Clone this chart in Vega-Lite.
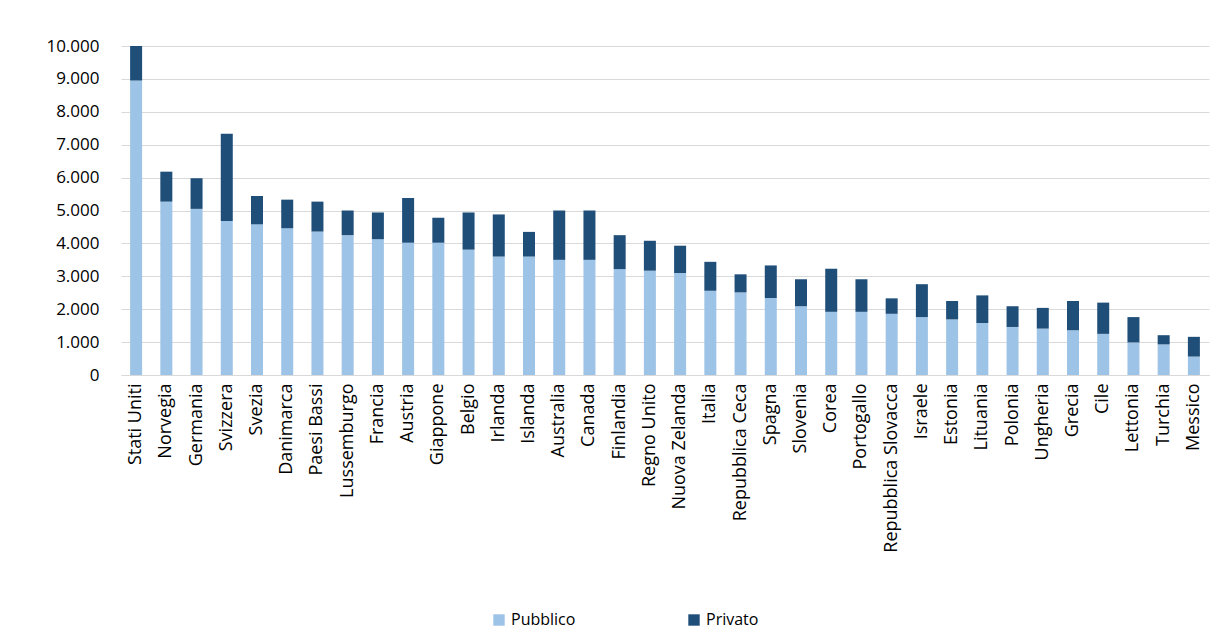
{
  "$schema": "https://vega.github.io/schema/vega-lite/v6.json",
  "width": 1088,
  "height": 329,
  "padding": {"left": 45, "top": 37, "right": 12, "bottom": 5},
  "background": "white",
  "config": {"font": "Open Sans", "view": {"stroke": null}},
  "data": {
    "values": [
      {"paese": "Stati Uniti", "tipo": "Pubblico", "valore": 8950},
      {"paese": "Stati Uniti", "tipo": "Privato", "valore": 1050},
      {"paese": "Norvegia", "tipo": "Pubblico", "valore": 5270},
      {"paese": "Norvegia", "tipo": "Privato", "valore": 910},
      {"paese": "Germania", "tipo": "Pubblico", "valore": 5050},
      {"paese": "Germania", "tipo": "Privato", "valore": 930},
      {"paese": "Svizzera", "tipo": "Pubblico", "valore": 4680},
      {"paese": "Svizzera", "tipo": "Privato", "valore": 2650},
      {"paese": "Svezia", "tipo": "Pubblico", "valore": 4580},
      {"paese": "Svezia", "tipo": "Privato", "valore": 860},
      {"paese": "Danimarca", "tipo": "Pubblico", "valore": 4460},
      {"paese": "Danimarca", "tipo": "Privato", "valore": 870},
      {"paese": "Paesi Bassi", "tipo": "Pubblico", "valore": 4360},
      {"paese": "Paesi Bassi", "tipo": "Privato", "valore": 910},
      {"paese": "Lussemburgo", "tipo": "Pubblico", "valore": 4250},
      {"paese": "Lussemburgo", "tipo": "Privato", "valore": 750},
      {"paese": "Francia", "tipo": "Pubblico", "valore": 4130},
      {"paese": "Francia", "tipo": "Privato", "valore": 810},
      {"paese": "Austria", "tipo": "Pubblico", "valore": 4020},
      {"paese": "Austria", "tipo": "Privato", "valore": 1360},
      {"paese": "Giappone", "tipo": "Pubblico", "valore": 4020},
      {"paese": "Giappone", "tipo": "Privato", "valore": 760},
      {"paese": "Belgio", "tipo": "Pubblico", "valore": 3810},
      {"paese": "Belgio", "tipo": "Privato", "valore": 1130},
      {"paese": "Irlanda", "tipo": "Pubblico", "valore": 3600},
      {"paese": "Irlanda", "tipo": "Privato", "valore": 1280},
      {"paese": "Islanda", "tipo": "Pubblico", "valore": 3600},
      {"paese": "Islanda", "tipo": "Privato", "valore": 750},
      {"paese": "Australia", "tipo": "Pubblico", "valore": 3500},
      {"paese": "Australia", "tipo": "Privato", "valore": 1500},
      {"paese": "Canada", "tipo": "Pubblico", "valore": 3500},
      {"paese": "Canada", "tipo": "Privato", "valore": 1500},
      {"paese": "Finlandia", "tipo": "Pubblico", "valore": 3220},
      {"paese": "Finlandia", "tipo": "Privato", "valore": 1030},
      {"paese": "Regno Unito", "tipo": "Pubblico", "valore": 3170},
      {"paese": "Regno Unito", "tipo": "Privato", "valore": 910},
      {"paese": "Nuova Zelanda", "tipo": "Pubblico", "valore": 3100},
      {"paese": "Nuova Zelanda", "tipo": "Privato", "valore": 830},
      {"paese": "Italia", "tipo": "Pubblico", "valore": 2560},
      {"paese": "Italia", "tipo": "Privato", "valore": 880},
      {"paese": "Repubblica Ceca", "tipo": "Pubblico", "valore": 2510},
      {"paese": "Repubblica Ceca", "tipo": "Privato", "valore": 550},
      {"paese": "Spagna", "tipo": "Pubblico", "valore": 2340},
      {"paese": "Spagna", "tipo": "Privato", "valore": 990},
      {"paese": "Slovenia", "tipo": "Pubblico", "valore": 2090},
      {"paese": "Slovenia", "tipo": "Privato", "valore": 820},
      {"paese": "Corea", "tipo": "Pubblico", "valore": 1920},
      {"paese": "Corea", "tipo": "Privato", "valore": 1310},
      {"paese": "Portogallo", "tipo": "Pubblico", "valore": 1920},
      {"paese": "Portogallo", "tipo": "Privato", "valore": 990},
      {"paese": "Repubblica Slovacca", "tipo": "Pubblico", "valore": 1860},
      {"paese": "Repubblica Slovacca", "tipo": "Privato", "valore": 470},
      {"paese": "Israele", "tipo": "Pubblico", "valore": 1760},
      {"paese": "Israele", "tipo": "Privato", "valore": 1000},
      {"paese": "Estonia", "tipo": "Pubblico", "valore": 1690},
      {"paese": "Estonia", "tipo": "Privato", "valore": 560},
      {"paese": "Lituania", "tipo": "Pubblico", "valore": 1580},
      {"paese": "Lituania", "tipo": "Privato", "valore": 840},
      {"paese": "Polonia", "tipo": "Pubblico", "valore": 1460},
      {"paese": "Polonia", "tipo": "Privato", "valore": 630},
      {"paese": "Ungheria", "tipo": "Pubblico", "valore": 1410},
      {"paese": "Ungheria", "tipo": "Privato", "valore": 630},
      {"paese": "Grecia", "tipo": "Pubblico", "valore": 1360},
      {"paese": "Grecia", "tipo": "Privato", "valore": 890},
      {"paese": "Cile", "tipo": "Pubblico", "valore": 1250},
      {"paese": "Cile", "tipo": "Privato", "valore": 950},
      {"paese": "Lettonia", "tipo": "Pubblico", "valore": 990},
      {"paese": "Lettonia", "tipo": "Privato", "valore": 770},
      {"paese": "Turchia", "tipo": "Pubblico", "valore": 930},
      {"paese": "Turchia", "tipo": "Privato", "valore": 280},
      {"paese": "Messico", "tipo": "Pubblico", "valore": 560},
      {"paese": "Messico", "tipo": "Privato", "valore": 600}
    ]
  },
  "transform": [{"calculate": "datum.tipo === 'Pubblico' ? 0 : 1", "as": "ordine"}],
  "mark": {"type": "bar", "width": 12},
  "encoding": {
    "x": {
      "field": "paese",
      "type": "nominal",
      "sort": null,
      "title": null,
      "axis": {"labelAngle": -90, "labelFontSize": 18, "labelColor": "#000", "ticks": false, "domainColor": "#d9d9d9", "labelPadding": 8}
    },
    "y": {
      "field": "valore",
      "type": "quantitative",
      "aggregate": "sum",
      "stack": "zero",
      "title": null,
      "scale": {"domain": [0, 10000]},
      "axis": {"values": [0,1000,2000,3000,4000,5000,6000,7000,8000,9000,10000], "labelExpr": "replace(format(datum.value, ','), ',', '.')", "labelFontSize": 17, "labelColor": "#000", "ticks": false, "domain": false, "gridColor": "#d9d9d9", "labelPadding": 22}
    },
    "color": {
      "field": "tipo",
      "type": "nominal",
      "scale": {"domain": ["Pubblico", "Privato"], "range": ["#9dc3e6", "#1f4e79"]},
      "legend": {"orient": "none", "legendX": 370, "legendY": 566, "title": null, "direction": "horizontal", "symbolType": "square", "symbolSize": 130, "labelFontSize": 16, "labelColor": "#000", "columnPadding": 110}
    },
    "order": {"field": "ordine", "type": "quantitative"}
  }
}
